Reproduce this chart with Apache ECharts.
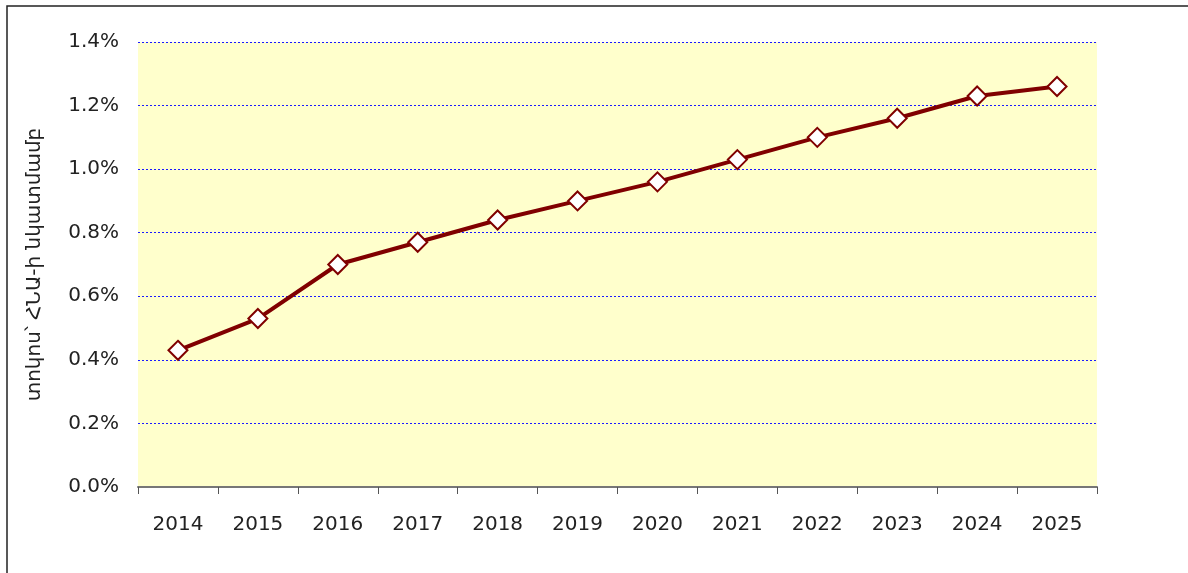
<!DOCTYPE html>
<html>
<head>
<meta charset="utf-8">
<script src="https://cdn.jsdelivr.net/npm/echarts@6/dist/echarts.min.js"></script>
<style>
  html, body { margin: 0; padding: 0; background: #ffffff; }
  #chart { width: 1188px; height: 573px; }
</style>
</head>
<body>
<div id="chart"></div>
<script>
// տարիներ
var years = ["2014", "2015", "2016", "2017", "2018", "2019", "2020", "2021", "2022", "2023", "2024", "2025"];
// տոկոս ՀՆԱ-ի նկատմամբ
var shareOfGdp = [0.43, 0.53, 0.70, 0.77, 0.84, 0.90, 0.96, 1.03, 1.10, 1.16, 1.23, 1.26];
var yAxisTitle = "տոկոս՝ ՀՆԱ-ի նկատմամբ";

var chart = echarts.init(document.getElementById("chart"));

var option = {
  backgroundColor: "#ffffff",
  animation: false,
  textStyle: { fontFamily: "DejaVu Sans" },
  graphic: [
    {
      type: "rect",
      shape: { x: 7, y: 6, width: 1300, height: 700 },
      style: { fill: "none", stroke: "#222222", lineWidth: 1.5 },
      silent: true
    }
  ],
  grid: {
    left: 138,
    right: 91,
    top: 42,
    bottom: 86,
    show: true,
    backgroundColor: "#ffffcc",
    borderWidth: 0
  },
  xAxis: {
    type: "category",
    data: years,
    boundaryGap: true,
    axisLine: { lineStyle: { color: "#777777", width: 2 } },
    axisTick: { show: true, length: 7, lineStyle: { color: "#555555", width: 1 } },
    axisLabel: { color: "#222222", fontSize: 20, margin: 28 },
    splitLine: { show: false }
  },
  yAxis: {
    type: "value",
    min: 0,
    max: 1.4,
    interval: 0.2,
    name: yAxisTitle,
    nameLocation: "middle",
    nameGap: 93,
    nameRotate: 90,
    nameTextStyle: { color: "#222222", fontSize: 20, fontFamily: "DejaVu Sans" },
    axisLine: { show: false },
    axisTick: { show: false },
    axisLabel: {
      color: "#222222",
      fontSize: 20,
      margin: 19,
      padding: [4, 0, 0, 0],
      formatter: function (v) { return v.toFixed(1) + "%"; }
    },
    splitLine: {
      lineStyle: { color: "#1a1aff", width: 1, type: [2, 2] } // կապույտ կետագծեր
    }
  },
  series: [
    {
      type: "line",
      data: shareOfGdp,
      symbol: "diamond",
      symbolSize: 19,
      lineStyle: { color: "#800000", width: 4 },
      itemStyle: { color: "#ffffff", borderColor: "#800000", borderWidth: 2 },
      z: 5
    }
  ]
};

chart.setOption(option);
</script>
</body>
</html>
